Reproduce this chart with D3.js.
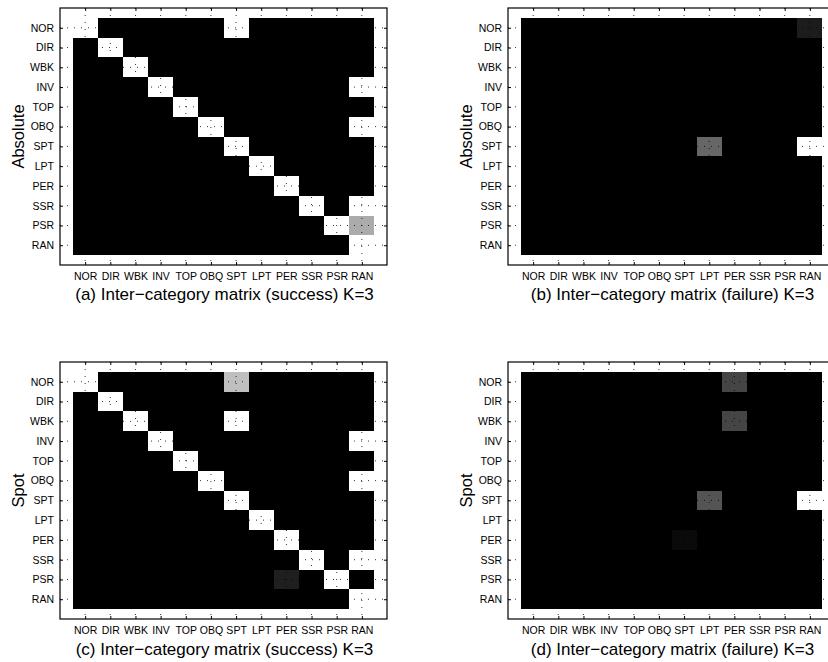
<!DOCTYPE html>
<html>
<head>
<meta charset="utf-8">
<script src="https://cdn.jsdelivr.net/npm/d3@7"></script>
<style>
body { margin: 0; background: #fff; }
text { font-family: "Liberation Sans", Arial, Helvetica, sans-serif; }
</style>
</head>
<body>
<script>
var width = 828;
var height = 662;

var categories = ["NOR", "DIR", "WBK", "INV", "TOP", "OBQ", "SPT", "LPT", "PER", "SSR", "PSR", "RAN"];

// rows = y category, columns = x category, 0 = black, 1 = white
var absSuccess = [
  [1, 0, 0, 0, 0, 0, 1, 0, 0, 0, 0, 0],
  [0, 1, 0, 0, 0, 0, 0, 0, 0, 0, 0, 0],
  [0, 0, 1, 0, 0, 0, 0, 0, 0, 0, 0, 0],
  [0, 0, 0, 1, 0, 0, 0, 0, 0, 0, 0, 1],
  [0, 0, 0, 0, 1, 0, 0, 0, 0, 0, 0, 0],
  [0, 0, 0, 0, 0, 1, 0, 0, 0, 0, 0, 1],
  [0, 0, 0, 0, 0, 0, 1, 0, 0, 0, 0, 0],
  [0, 0, 0, 0, 0, 0, 0, 1, 0, 0, 0, 0],
  [0, 0, 0, 0, 0, 0, 0, 0, 1, 0, 0, 0],
  [0, 0, 0, 0, 0, 0, 0, 0, 0, 1, 0, 1],
  [0, 0, 0, 0, 0, 0, 0, 0, 0, 0, 1, 0.67],
  [0, 0, 0, 0, 0, 0, 0, 0, 0, 0, 0, 1]
];

var absFailure = [
  [0, 0, 0, 0, 0, 0, 0, 0, 0, 0, 0, 0.11],
  [0, 0, 0, 0, 0, 0, 0, 0, 0, 0, 0, 0],
  [0, 0, 0, 0, 0, 0, 0, 0, 0, 0, 0, 0],
  [0, 0, 0, 0, 0, 0, 0, 0, 0, 0, 0, 0],
  [0, 0, 0, 0, 0, 0, 0, 0, 0, 0, 0, 0],
  [0, 0, 0, 0, 0, 0, 0, 0, 0, 0, 0, 0],
  [0, 0, 0, 0, 0, 0, 0, 0.4, 0, 0, 0, 1],
  [0, 0, 0, 0, 0, 0, 0, 0, 0, 0, 0, 0],
  [0, 0, 0, 0, 0, 0, 0, 0, 0, 0, 0, 0],
  [0, 0, 0, 0, 0, 0, 0, 0, 0, 0, 0, 0],
  [0, 0, 0, 0, 0, 0, 0, 0, 0, 0, 0, 0],
  [0, 0, 0, 0, 0, 0, 0, 0, 0, 0, 0, 0]
];

var spotSuccess = [
  [1, 0, 0, 0, 0, 0, 0.75, 0, 0, 0, 0, 0],
  [0, 1, 0, 0, 0, 0, 0, 0, 0, 0, 0, 0],
  [0, 0, 1, 0, 0, 0, 1, 0, 0, 0, 0, 0],
  [0, 0, 0, 1, 0, 0, 0, 0, 0, 0, 0, 1],
  [0, 0, 0, 0, 1, 0, 0, 0, 0, 0, 0, 0],
  [0, 0, 0, 0, 0, 1, 0, 0, 0, 0, 0, 1],
  [0, 0, 0, 0, 0, 0, 1, 0, 0, 0, 0, 0],
  [0, 0, 0, 0, 0, 0, 0, 1, 0, 0, 0, 0],
  [0, 0, 0, 0, 0, 0, 0, 0, 1, 0, 0, 0],
  [0, 0, 0, 0, 0, 0, 0, 0, 0, 1, 0, 1],
  [0, 0, 0, 0, 0, 0, 0, 0, 0.12, 0, 1, 0],
  [0, 0, 0, 0, 0, 0, 0, 0, 0, 0, 0, 1]
];

var spotFailure = [
  [0, 0, 0, 0, 0, 0, 0, 0, 0.27, 0, 0, 0],
  [0, 0, 0, 0, 0, 0, 0, 0, 0, 0, 0, 0],
  [0, 0, 0, 0, 0, 0, 0, 0, 0.27, 0, 0, 0],
  [0, 0, 0, 0, 0, 0, 0, 0, 0, 0, 0, 0],
  [0, 0, 0, 0, 0, 0, 0, 0, 0, 0, 0, 0],
  [0, 0, 0, 0, 0, 0, 0, 0, 0, 0, 0, 0],
  [0, 0, 0, 0, 0, 0, 0, 0.33, 0, 0, 0, 1],
  [0, 0, 0, 0, 0, 0, 0, 0, 0, 0, 0, 0],
  [0, 0, 0, 0, 0, 0, 0.04, 0, 0, 0, 0, 0],
  [0, 0, 0, 0, 0, 0, 0, 0, 0, 0, 0, 0],
  [0, 0, 0, 0, 0, 0, 0, 0, 0, 0, 0, 0],
  [0, 0, 0, 0, 0, 0, 0, 0, 0, 0, 0, 0]
];

var panels = [
  {data: absSuccess, ylabel: "Absolute", caption: "(a) Inter\u2212category matrix (success) K=3", left: 60, top: 8, capY: 292},
  {data: absFailure, ylabel: "Absolute", caption: "(b) Inter\u2212category matrix (failure) K=3", left: 508, top: 8, capY: 292},
  {data: spotSuccess, ylabel: "Spot", caption: "(c) Inter\u2212category matrix (success) K=3", left: 60, top: 362, capY: 293},
  {data: spotFailure, ylabel: "Spot", caption: "(d) Inter\u2212category matrix (failure) K=3", left: 508, top: 362, capY: 293}
];

var pw = 327, ph = 257;

var svg = d3.select('body').append('svg')
  .attr('width', width).attr('height', height)
  .style('background-color', '#fff');

var x = d3.scaleLinear().domain([0, 13]).range([0, pw]);
var y = d3.scaleLinear().domain([0, 13]).range([0, ph]);
var gray = d3.scaleLinear().domain([0, 1]).range(["#000", "#fff"]);
var tickVals = d3.range(1, categories.length + 1);

var drawPanel = function(p) {
  var g = svg.append('g').attr('transform', 'translate(' + p.left + ',' + p.top + ')');

  var cells = [];
  p.data.forEach(function(row, i) {
    row.forEach(function(v, j) { cells.push({r: i, c: j, v: v}); });
  });

  // cells snapped to whole pixels so neighbours meet with no seam
  g.selectAll('rect.cell').data(cells).enter().append('rect')
    .attr('class', 'cell')
    .attr('x', function(d) { return Math.round(x(d.c + 0.5)); })
    .attr('y', function(d) { return Math.round(y(d.r + 0.5)); })
    .attr('width', function(d) { return Math.round(x(d.c + 1.5)) - Math.round(x(d.c + 0.5)); })
    .attr('height', function(d) { return Math.round(y(d.r + 1.5)) - Math.round(y(d.r + 0.5)); })
    .attr('shape-rendering', 'crispEdges')
    .attr('fill', function(d) { return gray(d.v); });

  // dotted grid
  g.selectAll('line.vg').data(tickVals).enter().append('line')
    .attr('x1', function(d) { return x(d); }).attr('x2', function(d) { return x(d); })
    .attr('y1', 0).attr('y2', ph)
    .attr('stroke', '#000').attr('stroke-width', 0.8).attr('stroke-dasharray', '1,6');
  g.selectAll('line.hg').data(tickVals).enter().append('line')
    .attr('y1', function(d) { return y(d); }).attr('y2', function(d) { return y(d); })
    .attr('x1', 0).attr('x2', pw)
    .attr('stroke', '#000').attr('stroke-width', 0.8).attr('stroke-dasharray', '1,6');

  var fmt = function(i) { return categories[i - 1]; };
  var axes = [
    {ax: d3.axisBottom(x).tickFormat(fmt).tickPadding(8), t: 'translate(0,' + ph + ')'},
    {ax: d3.axisTop(x).tickFormat(''), t: null},
    {ax: d3.axisLeft(y).tickFormat(fmt).tickPadding(6), t: null},
    {ax: d3.axisRight(y).tickFormat(''), t: 'translate(' + pw + ',0)'}
  ];
  axes.forEach(function(a) {
    var ag = g.append('g').call(a.ax.tickValues(tickVals).tickSizeInner(-3).tickSizeOuter(0));
    if (a.t) ag.attr('transform', a.t);
    ag.select('.domain').remove();
    ag.selectAll('text').attr('font-size', 10.5).attr('font-family', '"Liberation Sans", Arial, sans-serif').attr('fill', '#000');
    ag.selectAll('line').attr('stroke', '#000');
  });

  g.append('rect').attr('x', 0).attr('y', 0).attr('width', pw).attr('height', ph)
    .attr('fill', 'none').attr('stroke', '#000').attr('stroke-width', 1.2);

  g.append('text')
    .attr('transform', 'translate(-36,' + (ph / 2) + ') rotate(-90)')
    .attr('text-anchor', 'middle')
    .attr('font-size', 16.5)
    .text(p.ylabel);

  g.append('text')
    .attr('x', pw / 2 + 1).attr('y', p.capY)
    .attr('text-anchor', 'middle')
    .attr('font-size', 17)
    .text(p.caption);
};

panels.forEach(drawPanel);
</script>
</body>
</html>
